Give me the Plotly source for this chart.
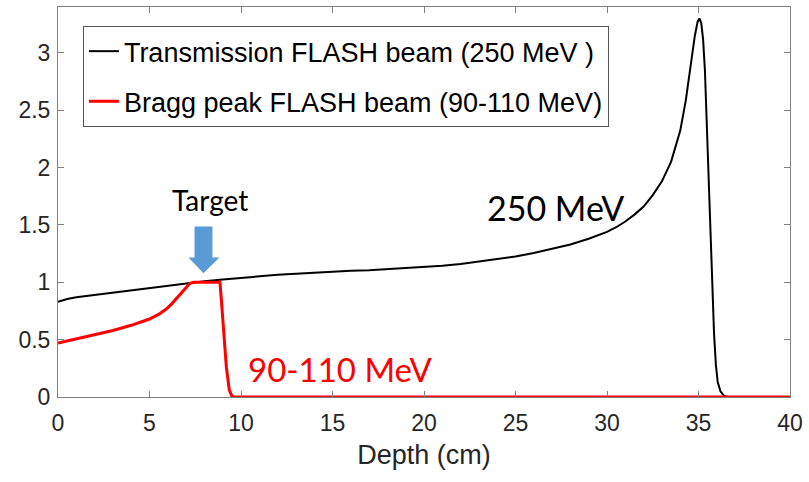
import plotly.graph_objects as go

# Transmission FLASH beam (250 MeV)
depth_250 = [0, 0.5, 1, 1.5, 2, 3, 4, 5, 6, 7, 8, 9, 10, 11, 12, 13, 14, 15, 16, 17, 18, 19, 20,
             21, 22, 23, 24, 25, 26, 27, 28, 29, 30, 30.5, 31, 31.5, 32, 32.5, 33, 33.5, 34, 34.3,
             34.6, 34.8, 34.95, 35.05, 35.15, 35.25, 35.35, 35.45, 35.55, 35.65, 35.75, 35.85,
             35.95, 36.05, 36.2, 36.4, 36.6, 40]
dose_250 = [0.83, 0.855, 0.87, 0.88, 0.895, 0.915, 0.935, 0.955, 0.975, 0.995, 1.01, 1.025, 1.04,
            1.055, 1.065, 1.075, 1.085, 1.09, 1.1, 1.105, 1.115, 1.12, 1.13, 1.145, 1.16, 1.18,
            1.2, 1.225, 1.255, 1.29, 1.33, 1.38, 1.44, 1.48, 1.53, 1.59, 1.66, 1.76, 1.88, 2.05,
            2.32, 2.58, 2.92, 3.15, 3.27, 3.30, 3.26, 3.12, 2.85, 2.35, 1.9, 1.4, 0.95, 0.55,
            0.28, 0.13, 0.05, 0.01, 0.0, 0.0]

# Bragg peak FLASH beam (90-110 MeV)
depth_bragg = [0, 1, 2, 3, 4, 4.5, 5, 5.5, 5.9, 6.2, 6.5, 6.8, 7.0, 7.2, 7.4, 8.85, 8.93, 9.05,
               9.2, 9.36, 9.5, 9.6, 40]
dose_bragg = [0.47, 0.505, 0.54, 0.58, 0.625, 0.65, 0.68, 0.72, 0.765, 0.81, 0.865, 0.925, 0.96,
              0.99, 1.0, 1.0, 0.84, 0.55, 0.26, 0.06, 0.01, 0.0, 0.0]

x_ticks = [0, 5, 10, 15, 20, 25, 30, 35, 40]
y_ticks = [0, 0.5, 1, 1.5, 2, 2.5, 3]
y_tick_labels = ["0", "0.5", "1", "1.5", "2", "2.5", "3"]

# Target arrow (data coordinates)
arrow_x = [7.46, 8.44, 8.44, 8.82, 7.95, 7.13, 7.46]
arrow_y = [1.487, 1.487, 1.217, 1.217, 1.078, 1.217, 1.217]

fig = go.Figure()
fig.add_trace(go.Scatter(x=depth_250, y=dose_250, mode="lines",
                         line=dict(color="black", width=2), legendgroup="a",
                         name="Transmission FLASH beam (250 MeV )"))
fig.add_trace(go.Scatter(x=depth_bragg, y=dose_bragg, mode="lines",
                         line=dict(color="#ff0000", width=3), legendgroup="b",
                         name="Bragg peak FLASH beam (90-110 MeV)"))

path = "M " + " L ".join(f"{x},{y}" for x, y in zip(arrow_x, arrow_y)) + " Z"
fig.add_shape(type="path", path=path, xref="x", yref="y",
              fillcolor="#5b9bd5", line=dict(width=0))

ann_font = "Lato, Open Sans, sans-serif"
fig.add_annotation(x=8.3, y=1.715, text="Target", showarrow=False,
                   font=dict(family=ann_font, size=28, color="black"))
fig.add_annotation(x=27.2, y=1.655, text="250 MeV", showarrow=False,
                   font=dict(family=ann_font, size=34, color="black"))
fig.add_annotation(x=15.4, y=0.245, text="90-110 MeV", showarrow=False,
                   font=dict(family=ann_font, size=33, color="#ff0000"))

axis_common = dict(showline=True, linecolor="#808080", linewidth=1, mirror="ticks",
                   ticks="inside", ticklen=6, tickcolor="#808080", showgrid=False,
                   zeroline=False, tickfont=dict(size=23, color="#262626"))

fig.update_xaxes(range=[0, 40], tickvals=x_ticks, ticktext=[str(t) for t in x_ticks],
                 ticklabelstandoff=5,
                 title=dict(text="Depth (cm)", font=dict(size=27, color="#262626"), standoff=10),
                 **axis_common)
fig.update_yaxes(range=[0, 3.4], tickvals=y_ticks, ticktext=y_tick_labels,
                 ticklabelstandoff=2, **axis_common)

fig.update_layout(
    width=809, height=482,
    margin=dict(l=58, r=16, t=6, b=85),
    plot_bgcolor="white", paper_bgcolor="white",
    font=dict(family="Liberation Sans, Arial, sans-serif", color="#262626"),
    legend=dict(x=0.034, y=0.951, xanchor="left", yanchor="top",
                bgcolor="white", bordercolor="#555555", borderwidth=1,
                font=dict(size=27, color="black"), itemwidth=30, tracegroupgap=12),
    showlegend=True,
)

fig.write_html("out.html")
